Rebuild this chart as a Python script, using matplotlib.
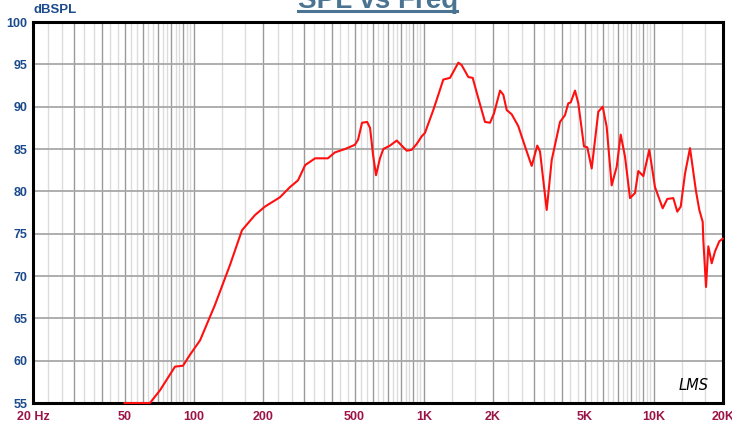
import numpy as np
import matplotlib.pyplot as plt
from matplotlib.lines import Line2D

# Raspunsul in frecventa (Hz, dB SPL)
freq = [50, 64.5, 71.3, 82.9, 89.8, 96.3, 106.5, 123.7, 143.7, 162, 184.6,
        204, 237, 262, 284, 305, 337, 383, 411, 455, 502, 518, 539, 567,
        584, 602, 620, 645, 667, 713, 763, 802, 843, 886, 932, 980, 1012,
        1100, 1157, 1216, 1300, 1414, 1462, 1562, 1632, 1726, 1846, 1941,
        2020, 2146, 2218, 2294, 2412, 2576, 2756, 2946, 3116, 3202, 3424,
        3600, 3912, 4112, 4250, 4354, 4546, 4698, 4974, 5140, 5372, 5740,
        5998, 6242, 6562, 6900, 7182, 7498, 7884, 8288, 8566, 9006, 9564,
        10124, 10934, 11450, 12160, 12658, 13098, 13674, 14374, 15264,
        15778, 16322, 16420, 16872, 17266, 17864, 18462, 19272, 19940]
spl = [55, 55, 56.5, 59.3, 59.4, 60.7, 62.4, 66.6, 71.3, 75.4, 77.2,
       78.2, 79.3, 80.5, 81.3, 83.1, 83.9, 83.9, 84.6, 85.0, 85.5, 86.1, 88.1, 88.2,
       87.5, 84.3, 81.9, 83.9, 85.0, 85.4, 86.0, 85.4, 84.8, 84.9, 85.6, 86.5, 86.9,
       89.6, 91.4, 93.2, 93.4, 95.2, 94.9, 93.5, 93.4, 91.0, 88.2, 88.1,
       89.2, 91.9, 91.4, 89.6, 89.1, 87.7, 85.3, 83.0, 85.4, 84.7, 77.8,
       83.7, 88.2, 89.0, 90.4, 90.5, 91.9, 90.4, 85.3, 85.2, 82.7, 89.4,
       90.0, 87.6, 80.7, 82.9, 86.7, 84.1, 79.2, 79.8, 82.4, 81.8, 84.9,
       80.5, 78.0, 79.1, 79.2, 77.6, 78.2, 82.1, 85.1, 80.0,
       77.8, 76.4, 74.3, 68.7, 73.5, 71.5, 72.9, 74.1, 74.4]

xticks = [20, 50, 100, 200, 500, 1000, 2000, 5000, 10000, 20000]
xlabels = ['20 Hz', '50', '100', '200', '500', '1K', '2K', '5K', '10K', '20K']
yticks = [55, 60, 65, 70, 75, 80, 85, 90, 95, 100]

plt.rcParams['font.family'] = ['Liberation Sans', 'DejaVu Sans']

fig = plt.figure(figsize=(7.32, 4.23), dpi=100)
ax = fig.add_axes([33/732, 1 - 403/423, 690/732, 381/423])

# Grila: linii inchise la n*10^k, linii deschise la treimi
for dec in [10, 100, 1000, 10000]:
    for n in range(1, 10):
        f = n * dec
        if 20 < f < 20000:
            ax.axvline(f, color='#9a9a9a', lw=1.0, zorder=1)
        for frac in (1/3, 2/3):
            g = (n + frac) * dec
            if 20 < g < 20000:
                ax.axvline(g, color='#dcdcdc', lw=1.0, zorder=0.9)
for y in yticks[1:-1]:
    ax.axhline(y, color='#a8a8a8', lw=1.3, zorder=1)

ax.plot(freq, spl, color='#ff1010', lw=1.5, zorder=4, clip_on=False)

ax.set_xscale('log')
ax.set_xlim(20, 20000)
ax.set_ylim(55, 100)
ax.set_xticks(xticks)
ax.set_xticklabels(xlabels)
ax.minorticks_off()
ax.set_yticks(yticks)
ax.tick_params(length=0)
ax.tick_params(axis='x', pad=6, labelcolor='#9c1446', labelsize=9)
ax.tick_params(axis='y', pad=4, labelcolor='#1b4a8c', labelsize=9)
for lab in ax.get_xticklabels() + ax.get_yticklabels():
    lab.set_fontweight('bold')
for s in ax.spines.values():
    s.set_linewidth(2.2)
    s.set_zorder(3)

ax.text(0, 1.015, 'dBSPL', transform=ax.transAxes, color='#1b4a8c',
        fontsize=9.5, fontweight='bold', va='bottom', ha='left')

# Titlul taiat sus, subliniat
fig.text(378/732, 1 - 8/423, 'SPL vs Freq', color='#4a7492', fontsize=20,
         fontweight='bold', ha='center', va='baseline')
fig.add_artist(Line2D([298/732, 457/732], [1 - 11/423, 1 - 11/423],
                      color='#4a7492', lw=2.2, transform=fig.transFigure))

ax.text(0.958, 0.047, 'LMS', transform=ax.transAxes, fontsize=10.5,
        style='italic', family='DejaVu Sans', fontweight='light',
        ha='center', va='center', color='black')

fig.savefig('out.png', dpi=100)
